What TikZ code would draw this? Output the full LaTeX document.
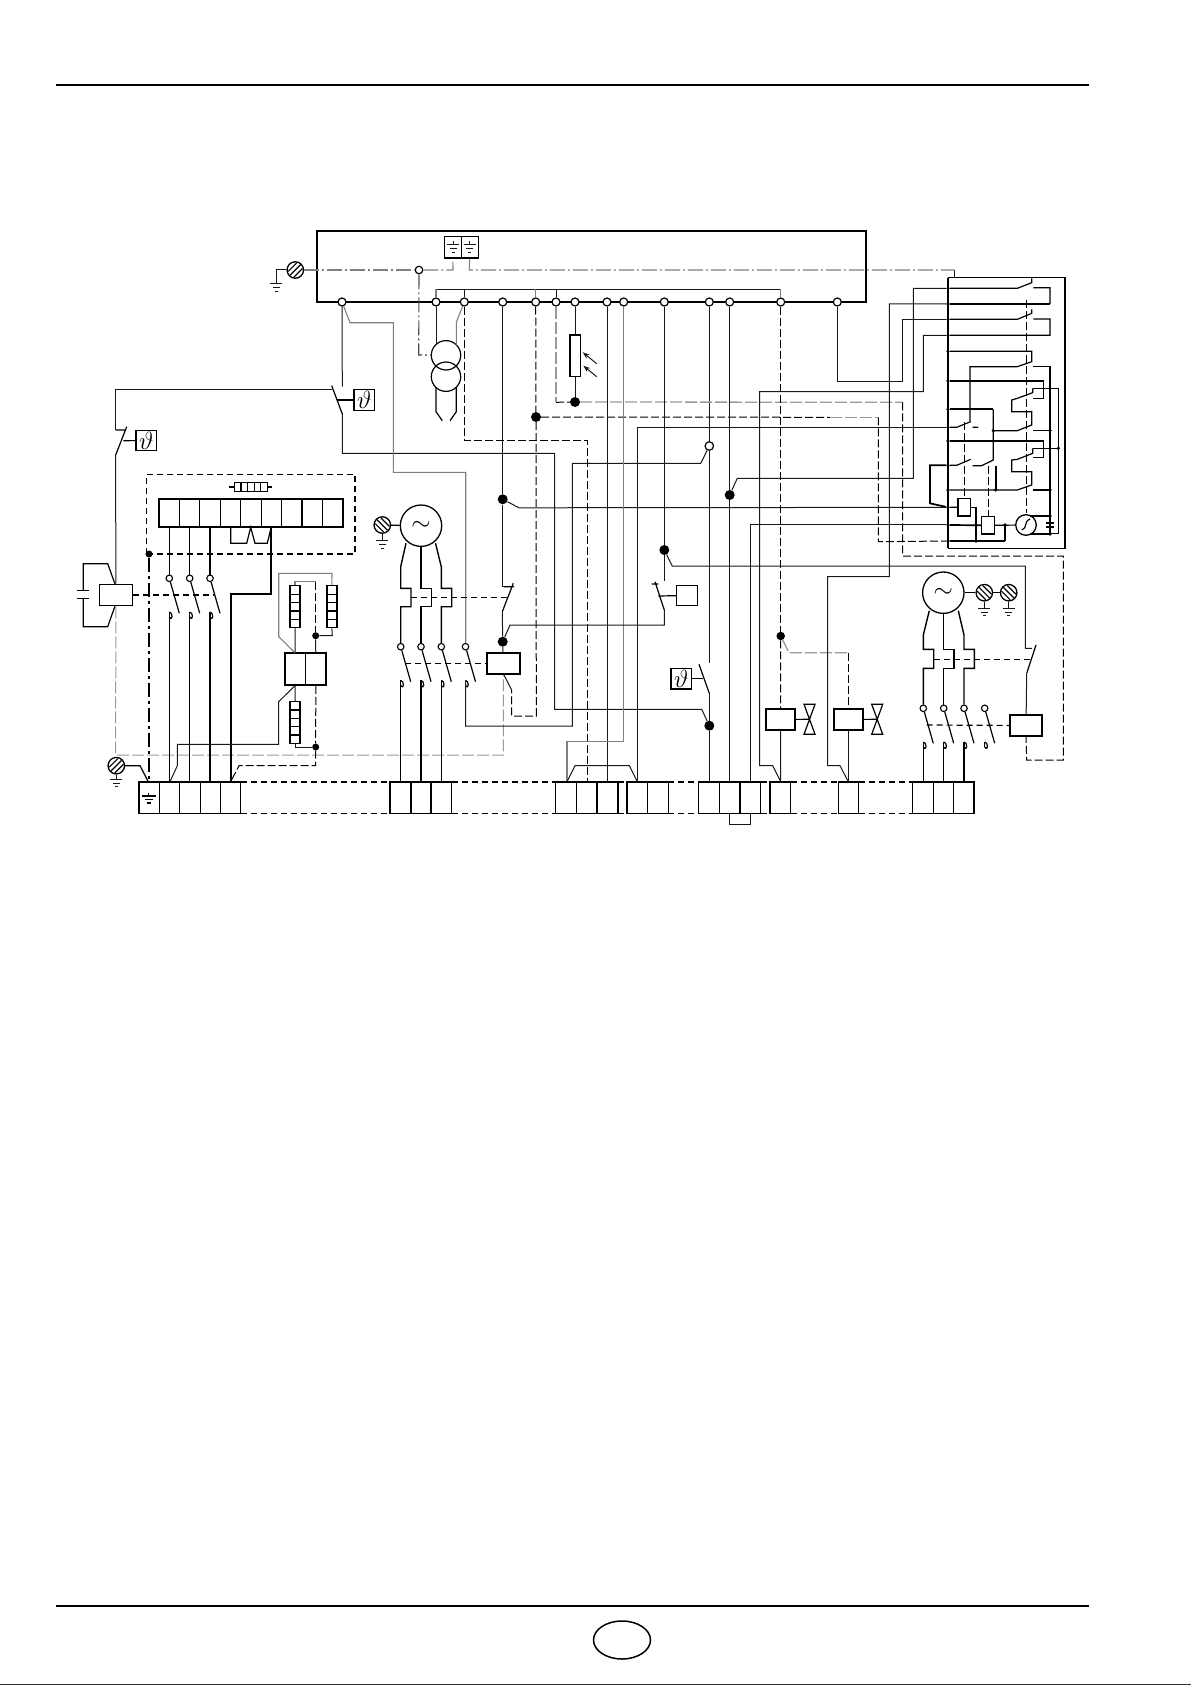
\documentclass[tikz,border=0pt]{standalone}
\usetikzlibrary{arrows.meta}

\tikzset{
	wire/.style={line width=1pt, color=black!90},
	wirem/.style={line width=1.2pt},
	wirep/.style={line width=1.4pt},
	wireh/.style={line width=1.7pt},
	gwire/.style={line width=1.1pt, color=black!50},
	dwire/.style={line width=1pt, dash pattern=on 8pt off 3pt},
	gdwire/.style={line width=1.3pt, color=black!40, dash pattern=on 12pt off 3pt},
	mech/.style={line width=1.2pt, dash pattern=on 6pt off 4pt},
	chain/.style={line width=1.1pt, color=black!50, dash pattern=on 15pt off 3pt on 2pt off 3pt},
	term/.style={circle, draw, fill=white, inner sep=0pt, minimum size=8pt, line width=1.2pt},
	pole/.style={circle, draw, fill=white, inner sep=0pt, minimum size=6.5pt, line width=1.1pt},
	blob/.style={circle, fill=black, inner sep=0pt, minimum size=10pt},
	smallblob/.style={circle, fill=black, inner sep=0pt, minimum size=7pt},
	busdot/.style={circle, fill=black, inner sep=0pt, minimum size=3.6pt},
	relay/.style={draw, line width=1.6pt, inner sep=0pt, minimum width=33pt, minimum height=21pt},
	thetabox/.style={draw, line width=1.3pt, inner sep=0pt, minimum size=20.6pt, font=\fontsize{23}{23}\selectfont},
	motor/.style={circle, draw, line width=1.3pt, inner sep=0pt, minimum size=41.4pt, font=\fontsize{30}{30}\selectfont},
	screw/.style={circle, draw, line width=1.3pt, inner sep=0pt, minimum size=16.5pt},
	cellbar/.style={draw, line width=1.3pt, inner sep=0pt, minimum width=10pt}
}

% three bars of an earth
\newcommand{\earthbars}[2]{
	\draw[wire, shift={(#1,#2)}] (-6,0) -- (6,0) (-3.5,3.7) -- (3.5,3.7) (-1.5,7.4) -- (1.5,7.4);
}
\newcommand{\screwhead}[4]{
	\node[screw] (#1) at (#2,#3) {};
	\draw[wirem, shift={(#2,#3)}, rotate=#4] (-7.5,0) -- (7.5,0) (-6,-4) -- (6,-4) (-6,4) -- (6,4);
}
% pole with its blade and hook
\newcommand{\polecontact}[3]{
	\node[pole] (#1) at (#2,#3) {};
	\draw[wirem] (#1) -- ++(10,35);
	\coordinate (#1h) at (#2,{#3+33.7});
	\draw[wirem] (#1h) .. controls ++(3.6,0) and ++(3.6,5) .. ++(0,5);
}
\newcommand{\ladder}[4]{
	\node[cellbar, minimum height=#4] (#1) at (#2,#3) {};
	\foreach \dy in {-0.3,-0.1,0.1,0.3}
		\draw[wirem] ({#2-5},{#3+\dy*#4}) -- ({#2+5},{#3+\dy*#4});
}
\newcommand{\valve}[2]{
	\draw[wirem, shift={(#1,#2)}] (-5.5,-15) -- (5.5,-15) -- (-5.5,15) -- (5.5,15) -- cycle;
}

\begin{document}
\begin{tikzpicture}[x=1pt, y=-1pt]
	\useasboundingbox (0,0) rectangle (1191,1685);

	% page rules
	\draw[line width=2.2pt] (56,85) -- (1089,85);
	\draw[line width=2.2pt] (56,1605.7) -- (1089,1605.7);
	\draw[line width=1.5pt] (622,1640) ellipse (28.5 and 19);
	\draw[line width=1pt, color=black!80] (0,1684.5) -- (1191,1684.5);

	% control box
	\draw[wireh] (317,302) -- (317,231) -- (866,231) -- (866,302) -- cycle;
	\foreach \nm/\xpos in {t1/342,t2/436,t3/464.3,t4/502.7,t5/535.7,t6/556,t7/575,t8/607,t9/623.7,t10/664.3,t11/709.3,t12/729.7,t13/780.7,t14/837.3}
		\node[term] (\nm) at (\xpos,302) {};

	\node[draw, wirem, minimum width=17pt, minimum height=21.3pt, inner sep=0pt] (gnda) at (452.8,247.3) {};
	\node[draw, wirem, minimum width=17pt, minimum height=21.3pt, inner sep=0pt] (gndb) at (469.6,247.3) {};
	\draw[wire] (453,241) -- (453,245) (469.5,241) -- (469.5,245);
	\earthbars{453}{245}
	\earthbars{469.5}{245}

	\screwhead{scra}{295.3}{270}{45}
	\draw[wire] (scra) -- (276.3,270) -- (276.3,284);
	\earthbars{276.3}{284}
	\node[term, minimum size=7.5pt] (o1) at (419,270) {};
	\draw[chain] (scra) -- (o1);
	\draw[chain] (o1) -- (453,270) -- (gnda.south);
	\draw[chain] (gndb.south) -- (469.3,270) -- (954.3,270);
	\draw[wire] (954.3,270) -- (954.3,277.7);

	% bus over the terminals
	\draw[wire] (436,289.3) -- (780.7,289.3);
	\draw[gwire] (t2) -- (436,289.3);
	\draw[wire] (t3) -- (464.3,289.3);
	\draw[gwire] (t5) -- (535.7,289.3);
	\draw[wire] (t6) -- (556,289.3);
	\draw[gwire] (t13) -- (780.7,289.3);

	% transformer
	\draw[line width=1.2pt] (446,355.3) circle (14.7);
	\draw[line width=1.2pt] (446,376.7) circle (14.7);
	\draw[wirem] (436,387) -- (436,411.7) -- (442.3,420.7);
	\draw[wirem] (456.3,387) -- (456.3,411.7) -- (450,420.7);
	\draw[wire] (t2) -- (436,344);
	\draw[gwire] (t3) -- (456.3,322.3) -- (456.3,345);
	\draw[chain, color=black!70] (o1) -- (418.7,355) -- (431.3,355);

	% photo resistor
	\node[draw, line width=1.6pt, inner sep=0pt, minimum width=10.6pt, minimum height=41.7pt] (photo) at (575,355.8) {};
	\draw[wire] (t7) -- (photo);
	\draw[wire, -{Stealth[length=7pt, width=5pt]}] (596.7,363.7) -- (582.7,352.3);
	\draw[wire, -{Stealth[length=7pt, width=5pt]}] (596.7,376.7) -- (583.3,365.7);
	\node[blob] (da) at (575,402) {};
	\draw[wire] (photo) -- (da);

	% dots on the long wires
	\node[blob] (db) at (536,417) {};
	\node[blob] (dc) at (502.7,499.3) {};
	\node[blob] (dd) at (502.7,641.7) {};
	\node[blob] (de) at (664.3,550) {};
	\node[blob] (df) at (709.3,725.7) {};
	\node[blob] (dg) at (729.7,495) {};
	\node[blob, minimum size=8.5pt] (dh) at (780.7,636) {};
	\node[term, minimum size=8.5pt] (o2) at (709.3,446) {};

	% right hand unit, read off at a third of a point
	\begin{scope}[shift={(760,220)}, x=0.33333pt, y=-0.33333pt]
		\draw[wirem] (564,173) -- (915,173) -- (915,985) -- (564,985);
		\draw[wireh] (564,173) -- (564,985);
		\foreach \nm/\ypos in {r1/205,r2/252,r3/298,r4/346,r5/394,r6/483,r7/568,r8/622,r9/663,r10/736,r11/810,r12/862,r13/915,r14/963}
			\node[busdot] (\nm) at (564,\ypos) {};

		\draw[wirem] (r1) -- (772,205) -- (815,188) -- (815,175) (820,203) -- (870,203) -- (870,252);
		\draw[wireh] (870,252) -- (r2);
		\draw[wirem] (r3) -- (772,298) -- (815,280) -- (815,268) (820,297) -- (870,297) -- (870,346) -- (r4);

		\draw[wirem] (r5) -- (815,394) -- (815,425) -- (772,440) -- (630,440) -- (630,605);
		\draw[wirem] (820,440) -- (870,440) -- (870,945);

		\draw[wirem] (r6) -- (851,483) -- (851,535) -- (820,535);
		\draw[wirem] (818,505) -- (818,518) -- (772,535) -- (755,540) -- (755,575) -- (815,575) -- (815,615) -- (772,632) -- (700,632);
		\draw[wirem] (820,632) -- (870,632);
		\draw[wirem] (818,505) -- (895,505) -- (895,940) -- (870,940);
		\draw[wireh] (r7) -- (700,568);
		\draw[wirem] (700,568) -- (700,720) -- (665,737) -- (638,737);

		\draw[wirem] (r8) -- (590,622) -- (632,605) (638,622) -- (655,622);
		\draw[wirem] (r9) -- (851,663) -- (851,713) -- (820,713);
		\draw[wirem] (818,685) -- (818,700) -- (772,718) -- (755,720) -- (755,755) -- (815,755) -- (815,795) -- (772,810) -- (r11);
		\draw[wirem] (818,685) -- (895,685);
		\draw[wirem] (820,810) -- (870,810);
		\draw[wirem] (r10) -- (590,736) -- (632,718);
		\draw[wireh] (707,737) -- (707,810);
		\draw[wireh] (r10) -- (510,736) -- (510,850) -- (r12);

		\node[relay, minimum width=12.7pt, minimum height=17.7pt] (rel5) at (613,861.5) {};
		\node[relay, minimum width=12.7pt, minimum height=17.7pt] (rel6) at (684,916) {};
		\draw[wirem] (r12) -- (rel5);
		\draw[wirem] (rel5.east |- r12) -- (648,862) -- (648,963);
		\draw[wireh] (r13) -- (rel6);
		\node[circle, draw, line width=1.3pt, inner sep=0pt, minimum size=20.6pt] (mot3) at (798,915) {};
		\draw[wirem] (rel6) -- (mot3);
		\draw[wireh] (735,915) -- (735,963);
		\draw[wirem] (735,963) -- (r14);
		\draw[wirem] (785,930) .. controls (803,925) and (790,905) .. (810,897);
		\draw[wirem] (810,888) -- (870,888) -- (870,908);
		\draw[wirem] (870,920) -- (870,942) -- (810,942);
		\draw[wireh] (858,908) -- (882,908) (858,920) -- (882,920);

		\foreach \xpos/\ypos in {700/632,707/810,735/915,648/963,870/632,870/810,870/888,870/942,895/685}
			\node[busdot] at (\xpos,\ypos) {};

		\draw[dwire] (800,240) -- (800,880);
		\draw[dwire] (613,605) -- (613,835);
		\draw[dwire] (685,737) -- (685,890);
	\end{scope}

	% second motor side, contacts and relays
	\node[relay] (rel0) at (115.8,595) {};
	\node[relay] (rel1) at (503.3,663.7) {};
	\node[relay, minimum width=29pt] (rel2) at (780.5,719.5) {};
	\node[relay, minimum width=29pt] (rel3) at (848.3,719.5) {};
	\node[relay, minimum width=32pt] (rel4) at (1026,725.5) {};
	\node[thetabox] (tha) at (364.3,400) {$\vartheta$};
	\node[thetabox] (thb) at (146.3,440.5) {$\vartheta$};
	\node[thetabox] (thc) at (681.3,678.7) {$\vartheta$};
	\node[thetabox] (pres) at (687,595.5) {};

	% safety chain at the top left
	\draw[wire] (t1) -- (342.3,386.7);
	\draw[wirem] (331.7,385.7) -- (342.3,414);
	\draw[wirem] (337.3,400) -- (tha);
	\draw[wire] (331.7,389.3) -- (115.7,389.3) -- (115.7,430);
	\draw[wirem] (115.7,455) -- (126.7,426.7) (115.7,430) -- (126,430);
	\draw[wirem] (123.3,440.7) -- (thb);
	\draw[wire] (115.7,455) -- (rel0);
	\draw[wire] (342.3,414) -- (342.3,453.3) -- (554.7,453.3) -- (554.7,709.3) -- (701.7,709.3) -- (df);
	\draw[gwire] (t1) -- (350,322.7) -- (393.3,322.7) -- (393.3,472.3) -- (465.7,472.3) -- (465.7,643);

	% capacitor on the first relay
	\draw[wirem] (115,584) -- (107.7,563.7) -- (83.3,563.7) -- (83.3,590.7);
	\draw[wirem] (115,606) -- (107.7,626.7) -- (83.3,626.7) -- (83.3,598.7);
	\draw[wirem] (76.7,590.7) -- (89.3,590.7) (76.7,598.7) -- (89.3,598.7);
	\draw[gdwire, line width=1pt] (rel0) -- (115.7,755) -- (503.3,755) -- (503.3,675);

	% first contactor
	\draw[mech] (146.7,554) -- (146.7,474.3) -- (355,474.3) -- (355,554) -- cycle;
	\node[smallblob] (dbox) at (149,554) {};
	\draw[line width=1.4pt, dash pattern=on 14pt off 4pt on 3pt off 4pt] (dbox) -- (149,782);
	\node[draw, wirem, inner sep=0pt, minimum width=33pt, minimum height=8.6pt] (fuse) at (250.8,487) {};
	\foreach \dx in {-9.9,-3.3,3.3,9.9}
		\draw[wirem] ({250.8+\dx},482.7) -- ({250.8+\dx},491.3);
	\draw[wirem] (229,487) -- (fuse) (fuse) -- (272.3,487);
	\draw[wireh] (159,499.3) rectangle (343,526.7);
	\foreach \i in {1,...,8}
		\draw[wirem] ({159+\i*20.44},499.3) -- ({159+\i*20.44},526.7);
	\draw[wirem] (230.7,526.7) -- (230.7,543.3) -- (246.7,543.3) -- (250.7,527.3) -- (255,543.3) -- (267.3,543.3) -- (271.3,526.7);
	\coordinate (stripb) at (0,526.7);
	\coordinate (blktop) at (0,782);

	\polecontact{pa}{169.3}{578.3}
	\polecontact{pb}{189.7}{578.3}
	\polecontact{pc}{210}{578.3}
	\foreach \nm in {pa,pb,pc} {
		\draw[wirem] (\nm) -- (\nm |- stripb);
		\draw[wirep] (\nm h) -- (\nm h |- blktop);
	}
	\draw[wireh] (271.3,526.7) -- (271.3,594.3) -- (230.7,594.3) -- (230.7,782);
	\draw[mech] (rel0.east) -- (214,595);

	% heater ladders
	\ladder{la}{295}{606.7}{42}
	\ladder{lb}{331.85}{606.7}{42}
	\ladder{lc}{295}{722.5}{41.7}
	\node[relay, minimum width=20.5pt, minimum height=31.7pt] (cpa) at (295.2,669.1) {};
	\node[relay, minimum width=20.5pt, minimum height=31.7pt] (cpb) at (315.8,669.1) {};
	\node[smallblob] (di) at (315.7,635.7) {};
	\node[smallblob] (dj) at (315.7,747) {};
	\draw[wire] (la) -- (cpa);
	\draw[gwire] (la.north) -- (295,581.7) -- (315.7,581.7);
	\draw[dwire] (315.7,581.7) -- (di);
	\draw[wire] (di) -- (cpb);
	\draw[wire] (di) -- (332.3,635.7) -- (lb.south);
	\draw[gwire] (295,652.7) -- (278.7,636.7) -- (278.7,573.3) -- (332,573.3) -- (lb.north);
	\draw[wire] (cpa) -- (lc);
	\draw[wire] (lc.south) -- (295,747) -- (dj);
	\draw[dwire] (cpb) -- (dj);
	\draw[dwire] (dj) -- (315.7,765.7) -- (239,765.7) -- (230.7,781.7);
	\draw[wire] (295,685.7) -- (278.7,701.7) -- (278.7,744.3) -- (177.3,744.3) -- (177.3,765.7) -- (170,781.7);

	% earth at the left
	\screwhead{scrb}{116.3}{765.7}{45}
	\draw[wirem] (scrb) -- (140,765.7) -- (148.3,781.7);
	\draw[wire] (scrb) -- (116.3,779);
	\earthbars{116.3}{779.3}
	\draw[wirem] (148.3,793) -- (148.3,796);
	\draw[wireh] (141.5,796) -- (155.5,796);
	\draw[wirem] (144.5,799.5) -- (152.5,799.5) (146.5,803) -- (150.5,803);

	% first motor
	\node[motor] (mota) at (421,525.7) {$\sim$};
	\screwhead{scrc}{382.3}{525}{-45}
	\draw[wirem] (scrc) -- (mota);
	\draw[wire] (scrc) -- (382.3,540.7);
	\earthbars{382.3}{540.7}
	\polecontact{pe}{400.7}{646.7}
	\polecontact{pf}{421}{646.7}
	\polecontact{pg}{441.3}{646.7}
	\polecontact{pd}{465.5}{646.7}
	\draw[wirep] (406,543.3) -- (400.7,566.7) -- (400.7,588.3) -- (411,588.3) -- (411,606.7) -- (400.7,606.7) -- (pe);
	\draw[wirep] (421,546.4) -- (421,588.3) -- (431.3,588.3) -- (431.3,606.7) -- (421,606.7) -- (pf);
	\draw[wirep] (435.5,543.3) -- (441.3,566.7) -- (441.3,588.3) -- (451.7,588.3) -- (451.7,606.7) -- (441.3,606.7) -- (pg);
	\foreach \nm in {peh,pfh,pgh}
		\draw[wirep] (\nm) -- (\nm |- blktop);
	\draw[mech] (411,597.3) -- (506.7,597.3);
	\draw[mech] (405,663.7) -- (rel1);
	\draw[wire] (t4) -- (dc);
	\draw[wire] (dc) -- (502.7,586.7) -- (509,586.7);
	\draw[wirem] (502.3,611.7) -- (513.3,583.3) (504,586.7) -- (514,586.7);
	\draw[wire] (502.3,611.7) -- (dd);
	\draw[wire] (dd) -- (rel1);
	\draw[wire] (dc) -- (519,507.8) -- (r12);
	\draw[wire] (t11) -- (o2);
	\draw[wire] (o2) -- (709.3,663.3);
	\draw[wire] (o2) -- (700.7,463.3) -- (572.3,463.3) -- (572.3,726) -- (465.7,726) -- (pdh);

	% dashed returns
	\draw[dwire] (t3) -- (464.3,440) -- (587.3,440) -- (587.3,782);
	\draw[dwire] (t5) -- (db);
	\draw[dwire] (db) -- (536.3,716) -- (511.7,716) -- (511.7,690);
	\draw[wire] (511.7,690) -- (504,675);
	\draw[dwire] (db) -- (830,417.3);
	\draw[gdwire, line width=1.1pt] (830,417.3) -- (878.3,417.3);
	\draw[dwire] (878.3,417.3) -- (878.3,541.7) -- (r14);
	\draw[gdwire] (t6) -- (556,402.3);
	\draw[dwire] (556,402.3) -- (da);
	\draw[gdwire] (da) -- (902.7,402.3);
	\draw[dwire] (902.7,402.3) -- (902.7,556) -- (1063.3,556) -- (1063.3,760) -- (1026.7,760) -- (rel4.south);

	% wires down to the lower blocks
	\draw[wire] (t8) -- (607,782);
	\draw[gwire] (t9) -- (623.7,741.7) -- (567,741.7) -- (567,781.7);
	\draw[wire] (567,781.7) -- (575,765.7) -- (629.3,765.7) -- (637.3,781.7);
	\draw[wire] (t10) -- (de);
	\draw[wire] (de) -- (664.3,580.7);
	\draw[wire] (de) -- (672.3,566) -- (1025.3,566) -- (1025.3,648.3) -- (1032,648.3);
	\draw[wirem] (655,581.7) -- (664.3,610) (651.7,584) -- (658.3,584);
	\draw[wirem] (658.3,596) -- (pres);
	\draw[wire] (664.3,610) -- (664.3,625) -- (510,625) -- (dd);
	\draw[wirem] (699,664.3) -- (709.3,693.3);
	\draw[wirem] (702.7,678.7) -- (thc);
	\draw[wire] (709.3,693.3) -- (df);
	\draw[wire] (df) -- (709.3,782);
	\draw[wire] (t12) -- (dg);
	\draw[wire] (dg) -- (729.7,782);
	\draw[wire] (dg) -- (737.3,478.3) -- (913.3,478.3) |- (r1);
	\draw[dwire] (t13) -- (dh);
	\draw[dwire] (dh) -- (rel2);
	\draw[wire] (rel2) -- (780.7,782);
	\draw[gdwire] (dh) -- (789,652.7) -- (848.3,652.7);
	\draw[dwire] (848.3,652.7) -- (rel3);
	\draw[wire] (rel3) -- (848.3,782);
	\draw[wirem] (rel2) -- (809.5,719.3);
	\draw[wirem] (rel3) -- (877.2,719.3);
	\valve{809.5}{719.3}
	\valve{877.2}{719.3}
	\draw[wire] (t14) -- (837.3,381.7) -- (902.7,381.7) |- (r3);
	\draw[wire] (r8) -| (637.7,782);
	\draw[wire] (r4) -| (923.3,391.7) -| (759.7,765.7) -- (772.7,765.7) -- (780.7,781.7);
	\draw[wire] (r13) -| (750.3,782);
	\draw[wire] (r2) -| (889.3,576.7) -| (827.7,765.7) -- (840,765.7) -- (848.3,781.7);

	% second motor
	\node[motor] (motb) at (943.3,592.7) {$\sim$};
	\screwhead{scrd}{984.3}{592.7}{-45}
	\screwhead{scre}{1008.7}{592.7}{-45}
	\draw[wirem] (motb) -- (scrd);
	\draw[wirem] (scrd) -- (scre);
	\draw[wire] (scrd) -- (984.3,608.3);
	\draw[wire] (scre) -- (1008.7,608.3);
	\earthbars{984.3}{608.3}
	\earthbars{1008.7}{608.3}
	\polecontact{ph}{923.3}{708.3}
	\polecontact{pi}{943.7}{708.3}
	\polecontact{pj}{964}{708.3}
	\polecontact{pk}{984.7}{708.3}
	\draw[wirem] (pkh) -- ++(0,5);
	\draw[wirep] (929.3,610.7) -- (923.3,635) -- (923.3,649.3) -- (933.7,649.3) -- (933.7,668.3) -- (923.3,668.3) -- (ph);
	\draw[wirep] (943.7,613.4) -- (943.7,649.3) -- (954,649.3) -- (954,668.3) -- (943.7,668.3) -- (pi);
	\draw[wirep] (958.3,610.7) -- (964,635) -- (964,649.3) -- (974.3,649.3) -- (974.3,668.3) -- (964,668.3) -- (pj);
	\foreach \nm in {phh,pih,pjh}
		\draw[wirep] (\nm) -- (\nm |- blktop);
	\draw[mech] (926.7,725) -- (rel4);
	\draw[mech] (933.7,659.3) -- (1030,659.3);
	\draw[wirem] (1026.7,673.3) -- (1036,645);
	\draw[wire] (1026.7,673.3) -- (rel4);

	% terminal blocks along the bottom
	\foreach \xa/\xb in {139/159.3,159.3/179.7,179.7/200.3,200.3/220.7,220.7/240.7,390/411,411/431,431/451.7,555.7/576.7,576.7/597,597/618,627/647.7,647.7/668.3,698.3/719.3,719.3/740,740/760.7,770/790.7,838.3/858.7,912.7/933.3,933.3/953.7,953.7/974}
		\draw[wirem] (\xa,782) rectangle (\xb,813.7);
	\foreach \xa/\xb in {240.7/390,451.7/555.7,618/627,668.3/698.3,760.7/770,790.7/838.3,858.7/912.7} {
		\draw[mech] (\xa,782) -- (\xb,782);
		\draw[mech] (\xa,813.7) -- (\xb,813.7);
	}
	\draw[wire] (729.7,813.7) -- (729.7,824.3) -- (750.3,824.3) -- (750.3,813.7);
\end{tikzpicture}
\end{document}
